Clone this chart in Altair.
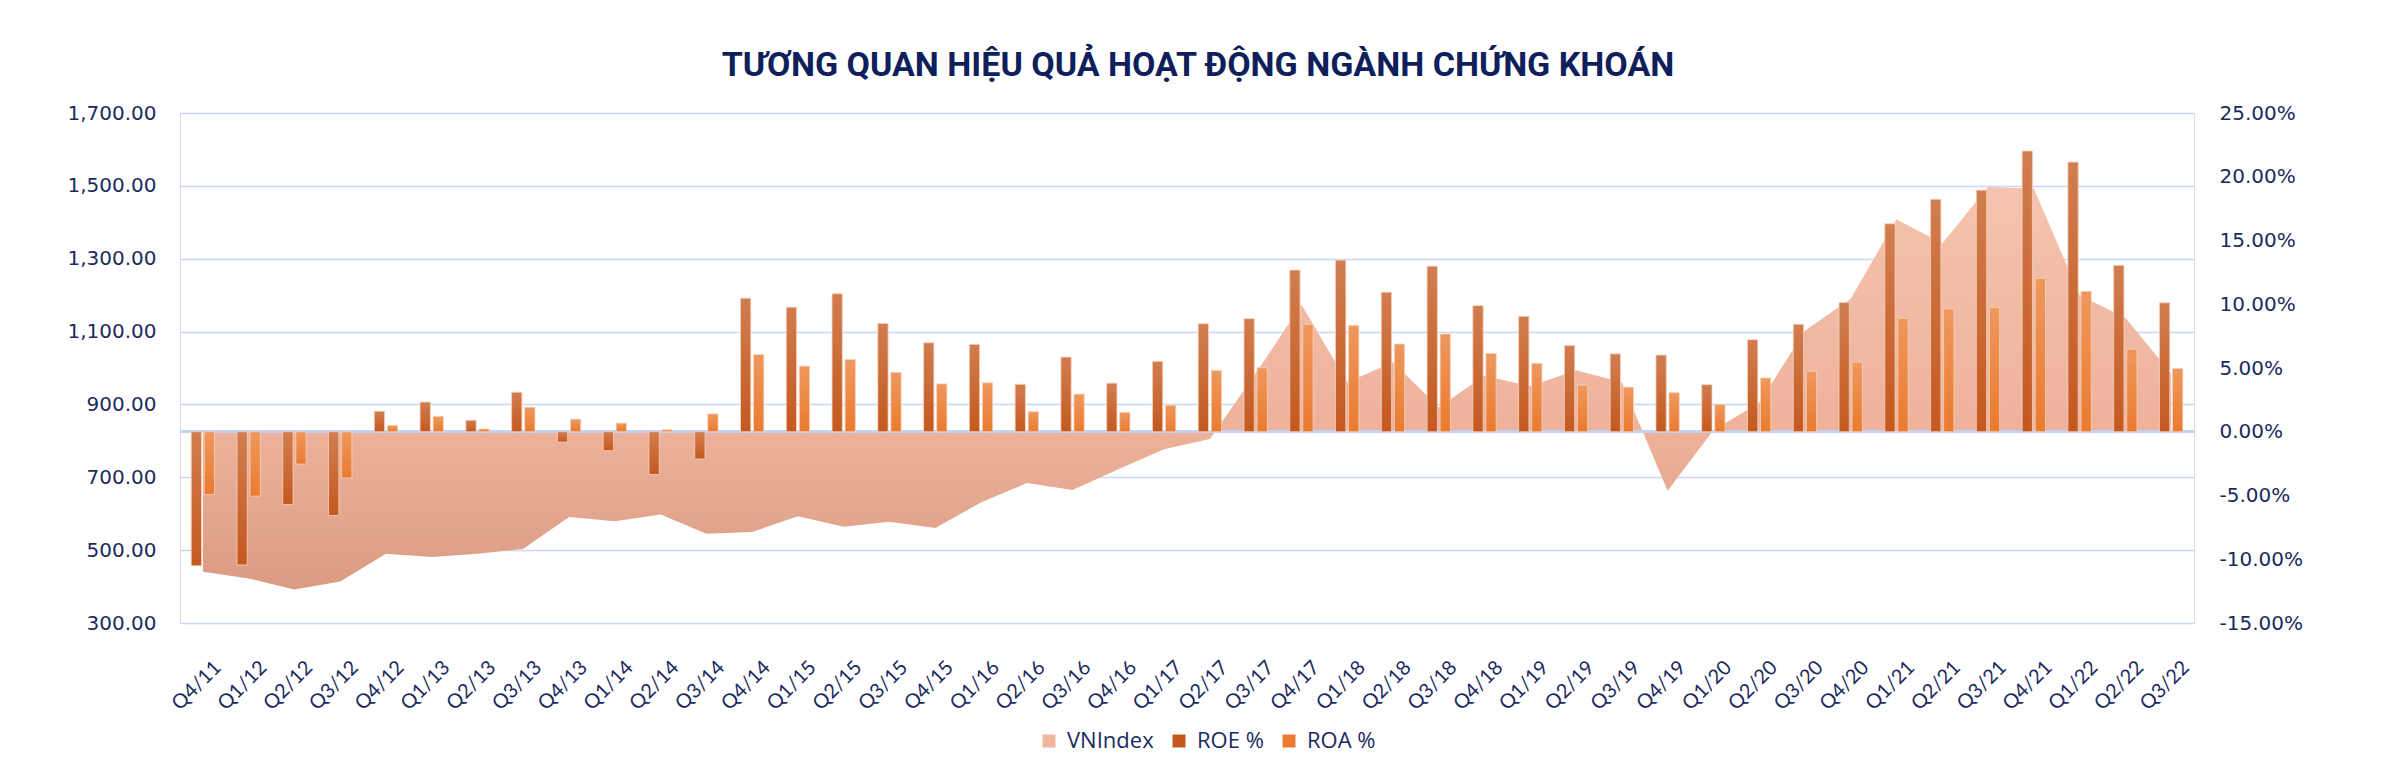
import altair as alt
import pandas as pd

quarters = [
    "Q4/11", "Q1/12", "Q2/12", "Q3/12", "Q4/12", "Q1/13", "Q2/13", "Q3/13", "Q4/13",
    "Q1/14", "Q2/14", "Q3/14", "Q4/14", "Q1/15", "Q2/15", "Q3/15", "Q4/15",
    "Q1/16", "Q2/16", "Q3/16", "Q4/16", "Q1/17", "Q2/17", "Q3/17", "Q4/17",
    "Q1/18", "Q2/18", "Q3/18", "Q4/18", "Q1/19", "Q2/19", "Q3/19", "Q4/19",
    "Q1/20", "Q2/20", "Q3/20", "Q4/20", "Q1/21", "Q2/21", "Q3/21", "Q4/21",
    "Q1/22", "Q2/22", "Q3/22",
]

vnindex = [
    441, 422, 392, 414, 490, 481, 490, 504, 591, 579, 598, 545, 550, 593, 564, 578,
    561, 631, 684, 665, 722, 777, 805, 985, 1174, 961, 1016, 892, 979, 950, 994, 961,
    663, 829, 904, 1102, 1190, 1408, 1342, 1497, 1493, 1200, 1138, 985,
]

roe_pct = [
    -10.51, -10.45, -5.71, -6.57, 1.61, 2.33, 0.90, 3.10, -0.81, -1.49, -3.35, -2.14,
    10.48, 9.77, 10.82, 8.50, 6.98, 6.85, 3.72, 5.86, 3.81, 5.52, 8.47, 8.87,
    12.68, 13.46, 10.95, 12.99, 9.89, 9.05, 6.76, 6.11, 6.02, 3.69, 7.22, 8.43,
    10.14, 16.31, 18.23, 18.95, 22.02, 21.15, 13.05, 10.11,
]

roa_pct = [
    -4.93, -5.05, -2.54, -3.63, 0.50, 1.21, 0.22, 1.92, 0.99, 0.68, 0.16, 1.40,
    6.05, 5.15, 5.67, 4.65, 3.75, 3.84, 1.58, 2.95, 1.52, 2.08, 4.81, 5.02,
    8.43, 8.34, 6.88, 7.66, 6.14, 5.36, 3.66, 3.50, 3.07, 2.14, 4.22, 4.74,
    5.46, 8.90, 9.64, 9.74, 12.03, 11.01, 6.48, 4.96,
]

series_names = ["VNIndex", "ROE %", "ROA %"]
series_colors = ["#f1b59e", "#c4591f", "#ea7b30"]
left_ticks = [300, 500, 700, 900, 1100, 1300, 1500, 1700]
right_ticks = [-0.15, -0.10, -0.05, 0.0, 0.05, 0.10, 0.15, 0.20, 0.25]
zero_on_left = 825  # VNIndex level aligned with 0% on the right axis

TITLE = "TƯƠNG QUAN HIỆU QUẢ HOẠT ĐỘNG NGÀNH CHỨNG KHOÁN"
NAVY = "#1b2a5e"

area_df = pd.DataFrame({"quarter": quarters, "VNIndex": vnindex})
bar_df = pd.DataFrame(
    {
        "quarter": quarters * 2,
        "series": ["ROE %"] * len(quarters) + ["ROA %"] * len(quarters),
        "value": [v / 100 for v in roe_pct] + [v / 100 for v in roa_pct],
    }
)

x_scale = alt.Scale(domain=quarters, paddingInner=0.49, paddingOuter=0.245)
x_axis = alt.Axis(
    title=None, labelAngle=-45, labelFont="Lato", labelFontSize=20,
    labelColor=NAVY, domain=False, ticks=False, labelPadding=34, labelOffset=8,
    grid=False,
)

area_grad = alt.Gradient(
    gradient="linear", x1=0, y1=0, x2=0, y2=1,
    stops=[
        alt.GradientStop(offset=0, color="#f5c3ae"),
        alt.GradientStop(offset=0.6, color="#eeb29b"),
        alt.GradientStop(offset=1, color="#d99b82"),
    ],
)

area = alt.Chart(area_df).mark_area(color=area_grad, interpolate="linear").encode(
    x=alt.X("quarter:N", scale=x_scale, axis=x_axis, sort=quarters),
    y=alt.Y(
        "VNIndex:Q",
        scale=alt.Scale(domain=[300, 1700], zero=False, nice=False),
        axis=alt.Axis(
            orient="left", title=None, values=left_ticks, format=",.2f",
            labelFont="DejaVu Sans", labelFontSize=20, labelColor=NAVY,
            labelPadding=24, domain=False, ticks=False, grid=True,
            gridColor="#cbd7f5", gridWidth=1.5,
        ),
    ),
    y2=alt.datum(zero_on_left),
)

y_right = alt.Y(
    "value:Q",
    scale=alt.Scale(domain=[-0.15, 0.25], nice=False),
    axis=alt.Axis(
        orient="right", title=None, values=right_ticks,
        labelExpr="replace(format(datum.value, '.2%'), '\u2212', '-')",
        labelFont="DejaVu Sans", labelFontSize=20, labelColor=NAVY,
        labelPadding=25, domain=False, ticks=False, grid=False,
    ),
)

zero_rule = alt.Chart(bar_df).mark_rule(color="#c3d1f3", strokeWidth=2).encode(
    y=alt.datum(0)
)

offset_enc = alt.XOffset(
    "series:N", scale=alt.Scale(domain=["ROE %", "ROA %"], paddingInner=0.21, paddingOuter=0)
)

bars = alt.Chart(bar_df).mark_bar().encode(
    x=alt.X("quarter:N", scale=x_scale, axis=x_axis, sort=quarters),
    xOffset=offset_enc,
    y=y_right,
    color=alt.Color(
        "series:N",
        scale=alt.Scale(domain=series_names, range=series_colors),
        legend=alt.Legend(
            title=None, orient="none", direction="horizontal",
            legendX=858, legendY=617, symbolType="square", symbolSize=169,
            symbolStrokeWidth=0, labelFont="Open Sans", labelFontSize=22,
            labelColor=NAVY, labelOffset=7, columnPadding=14,
        ),
    ),
)

bar_shine = alt.Gradient(
    gradient="linear", x1=0, y1=0, x2=0, y2=1,
    stops=[
        alt.GradientStop(offset=0, color="rgba(255,255,255,0.22)"),
        alt.GradientStop(offset=1, color="rgba(255,255,255,0)"),
    ],
)

bars_overlay = alt.Chart(bar_df).mark_bar(
    color=bar_shine, stroke="#f7d3bf", strokeWidth=1, strokeOpacity=0.8
).encode(
    x=alt.X("quarter:N", scale=x_scale, axis=x_axis, sort=quarters),
    xOffset=offset_enc,
    y=y_right,
)

right_group = alt.layer(zero_rule, bars, bars_overlay)

chart = (
    alt.layer(area, right_group)
    .resolve_scale(y="independent")
    .properties(
        width=2014,
        height=510,
        autosize=alt.AutoSizeParams(type="none"),
        padding={"left": 172, "top": 105, "right": 176, "bottom": 149},
        title=alt.TitleParams(
            TITLE, font="Roboto", fontSize=34, fontWeight="bold", color="#0f1f5c",
            anchor="middle", offset=20, dx=11,
        ),
    )
    .configure_view(strokeWidth=0)
    .configure(background="white")
)

chart.save("out.html", embed_options={"renderer": "svg", "actions": False})
